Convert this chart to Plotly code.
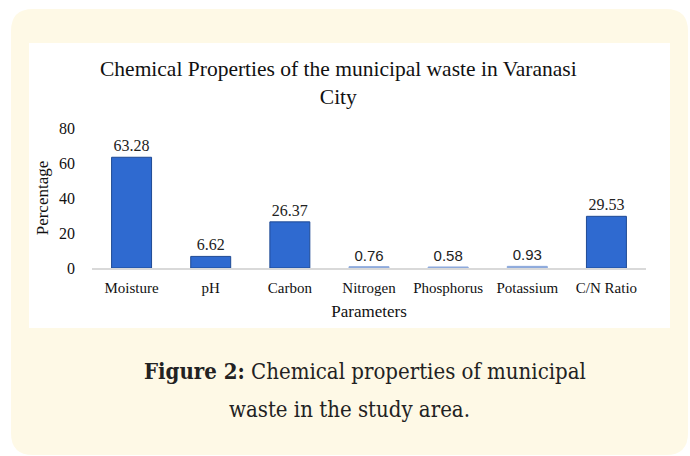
import plotly.graph_objects as go

categories = ["Moisture", "pH", "Carbon", "Nitrogen", "Phosphorus", "Potassium", "C/N Ratio"]
values = [63.28, 6.62, 26.37, 0.76, 0.58, 0.93, 29.53]
value_labels = ["63.28", "6.62", "26.37", "0.76", "0.58", "0.93", "29.53"]
y_ticks = [0, 20, 40, 60, 80]

serif = "Liberation Serif, Times New Roman, serif"
sans = "Liberation Sans, Arial, sans-serif"
caption_font = "DejaVu Serif Condensed, DejaVu Serif, serif"

label_text = [t if v >= 1 else f"<span style='font-family:{sans};font-size:15px'>{t}</span>"
              for t, v in zip(value_labels, values)]
line_colors = ["#1f4a94" if v >= 1 else "#8eaadc" for v in values]
fill_colors = ["#2f6ad0" if v >= 1 else "#8eaadc" for v in values]

fig = go.Figure()
fig.add_trace(go.Bar(
    x=categories, y=values,
    text=label_text, textposition="outside",
    textfont=dict(family=serif, size=16, color="#222222"),
    marker=dict(color=fill_colors, line=dict(color=line_colors, width=1)),
    cliponaxis=False, hoverinfo="skip",
))

W, H = 690, 456
L, R, T, B = 92, 44, 128, 188
pw, ph = W - L - R, H - T - B

def px(x):
    return (x - L) / pw

def py(y):
    return (H - B - y) / ph

# rounded cream box
x0, x1, y0, y1, r = 11, 688, 9, 455, 22
path = (f"M {px(x0+r)},{py(y0)} L {px(x1-r)},{py(y0)} "
        f"Q {px(x1)},{py(y0)} {px(x1)},{py(y0+r)} "
        f"L {px(x1)},{py(y1-r)} Q {px(x1)},{py(y1)} {px(x1-r)},{py(y1)} "
        f"L {px(x0+r)},{py(y1)} Q {px(x0)},{py(y1)} {px(x0)},{py(y1-r)} "
        f"L {px(x0)},{py(y0+r)} Q {px(x0)},{py(y0)} {px(x0+r)},{py(y0)} Z")

shapes = [
    dict(type="path", xref="paper", yref="paper", path=path,
         fillcolor="#FEF9E6", line=dict(width=0), layer="below"),
    dict(type="rect", xref="paper", yref="paper",
         x0=px(29), x1=px(670), y0=py(43), y1=py(328),
         fillcolor="white", line=dict(width=0), layer="below"),
]

annotations = [
    dict(text="Chemical Properties of the municipal waste in Varanasi<br>City",
         xref="paper", yref="paper", x=px(338), y=py(83), showarrow=False,
         font=dict(family=serif, size=21.5, color="#111111"), align="center",
         xanchor="center", yanchor="middle"),
    dict(text="<b>Figure 2:</b> Chemical properties of municipal",
         xref="paper", yref="paper", x=px(365), y=py(371), showarrow=False,
         font=dict(family=caption_font, size=22, color="#222222"),
         xanchor="center", yanchor="middle"),
    dict(text="waste in the study area.",
         xref="paper", yref="paper", x=px(349), y=py(409), showarrow=False,
         font=dict(family=caption_font, size=22, color="#222222"),
         xanchor="center", yanchor="middle"),
]

fig.update_layout(
    width=W, height=H,
    margin=dict(l=L, r=R, t=T, b=B),
    paper_bgcolor="white", plot_bgcolor="rgba(0,0,0,0)",
    showlegend=False,
    bargap=0.495,
    shapes=shapes, annotations=annotations,
    font=dict(family=serif, size=14, color="#111111"),
    xaxis=dict(
        showgrid=False, showline=True, linecolor="#d9d9d9", linewidth=1.5,
        ticks="", ticklabelstandoff=5,
        tickfont=dict(family=serif, size=15, color="#111111"),
        title=dict(text="Parameters", font=dict(family=serif, size=17, color="#111111"), standoff=10),
        fixedrange=True,
    ),
    yaxis=dict(
        range=[0, 80], tickvals=y_ticks, showgrid=False, zeroline=False,
        showline=False, ticks="", ticklabelstandoff=16,
        tickfont=dict(family=serif, size=16, color="#111111"),
        title=dict(text="Percentage", font=dict(family=serif, size=17, color="#111111"), standoff=6),
        fixedrange=True,
    ),
)

fig.write_html("out.html", config={"displayModeBar": False},
               post_script="document.body.style.margin='0';document.body.style.padding='0';")
